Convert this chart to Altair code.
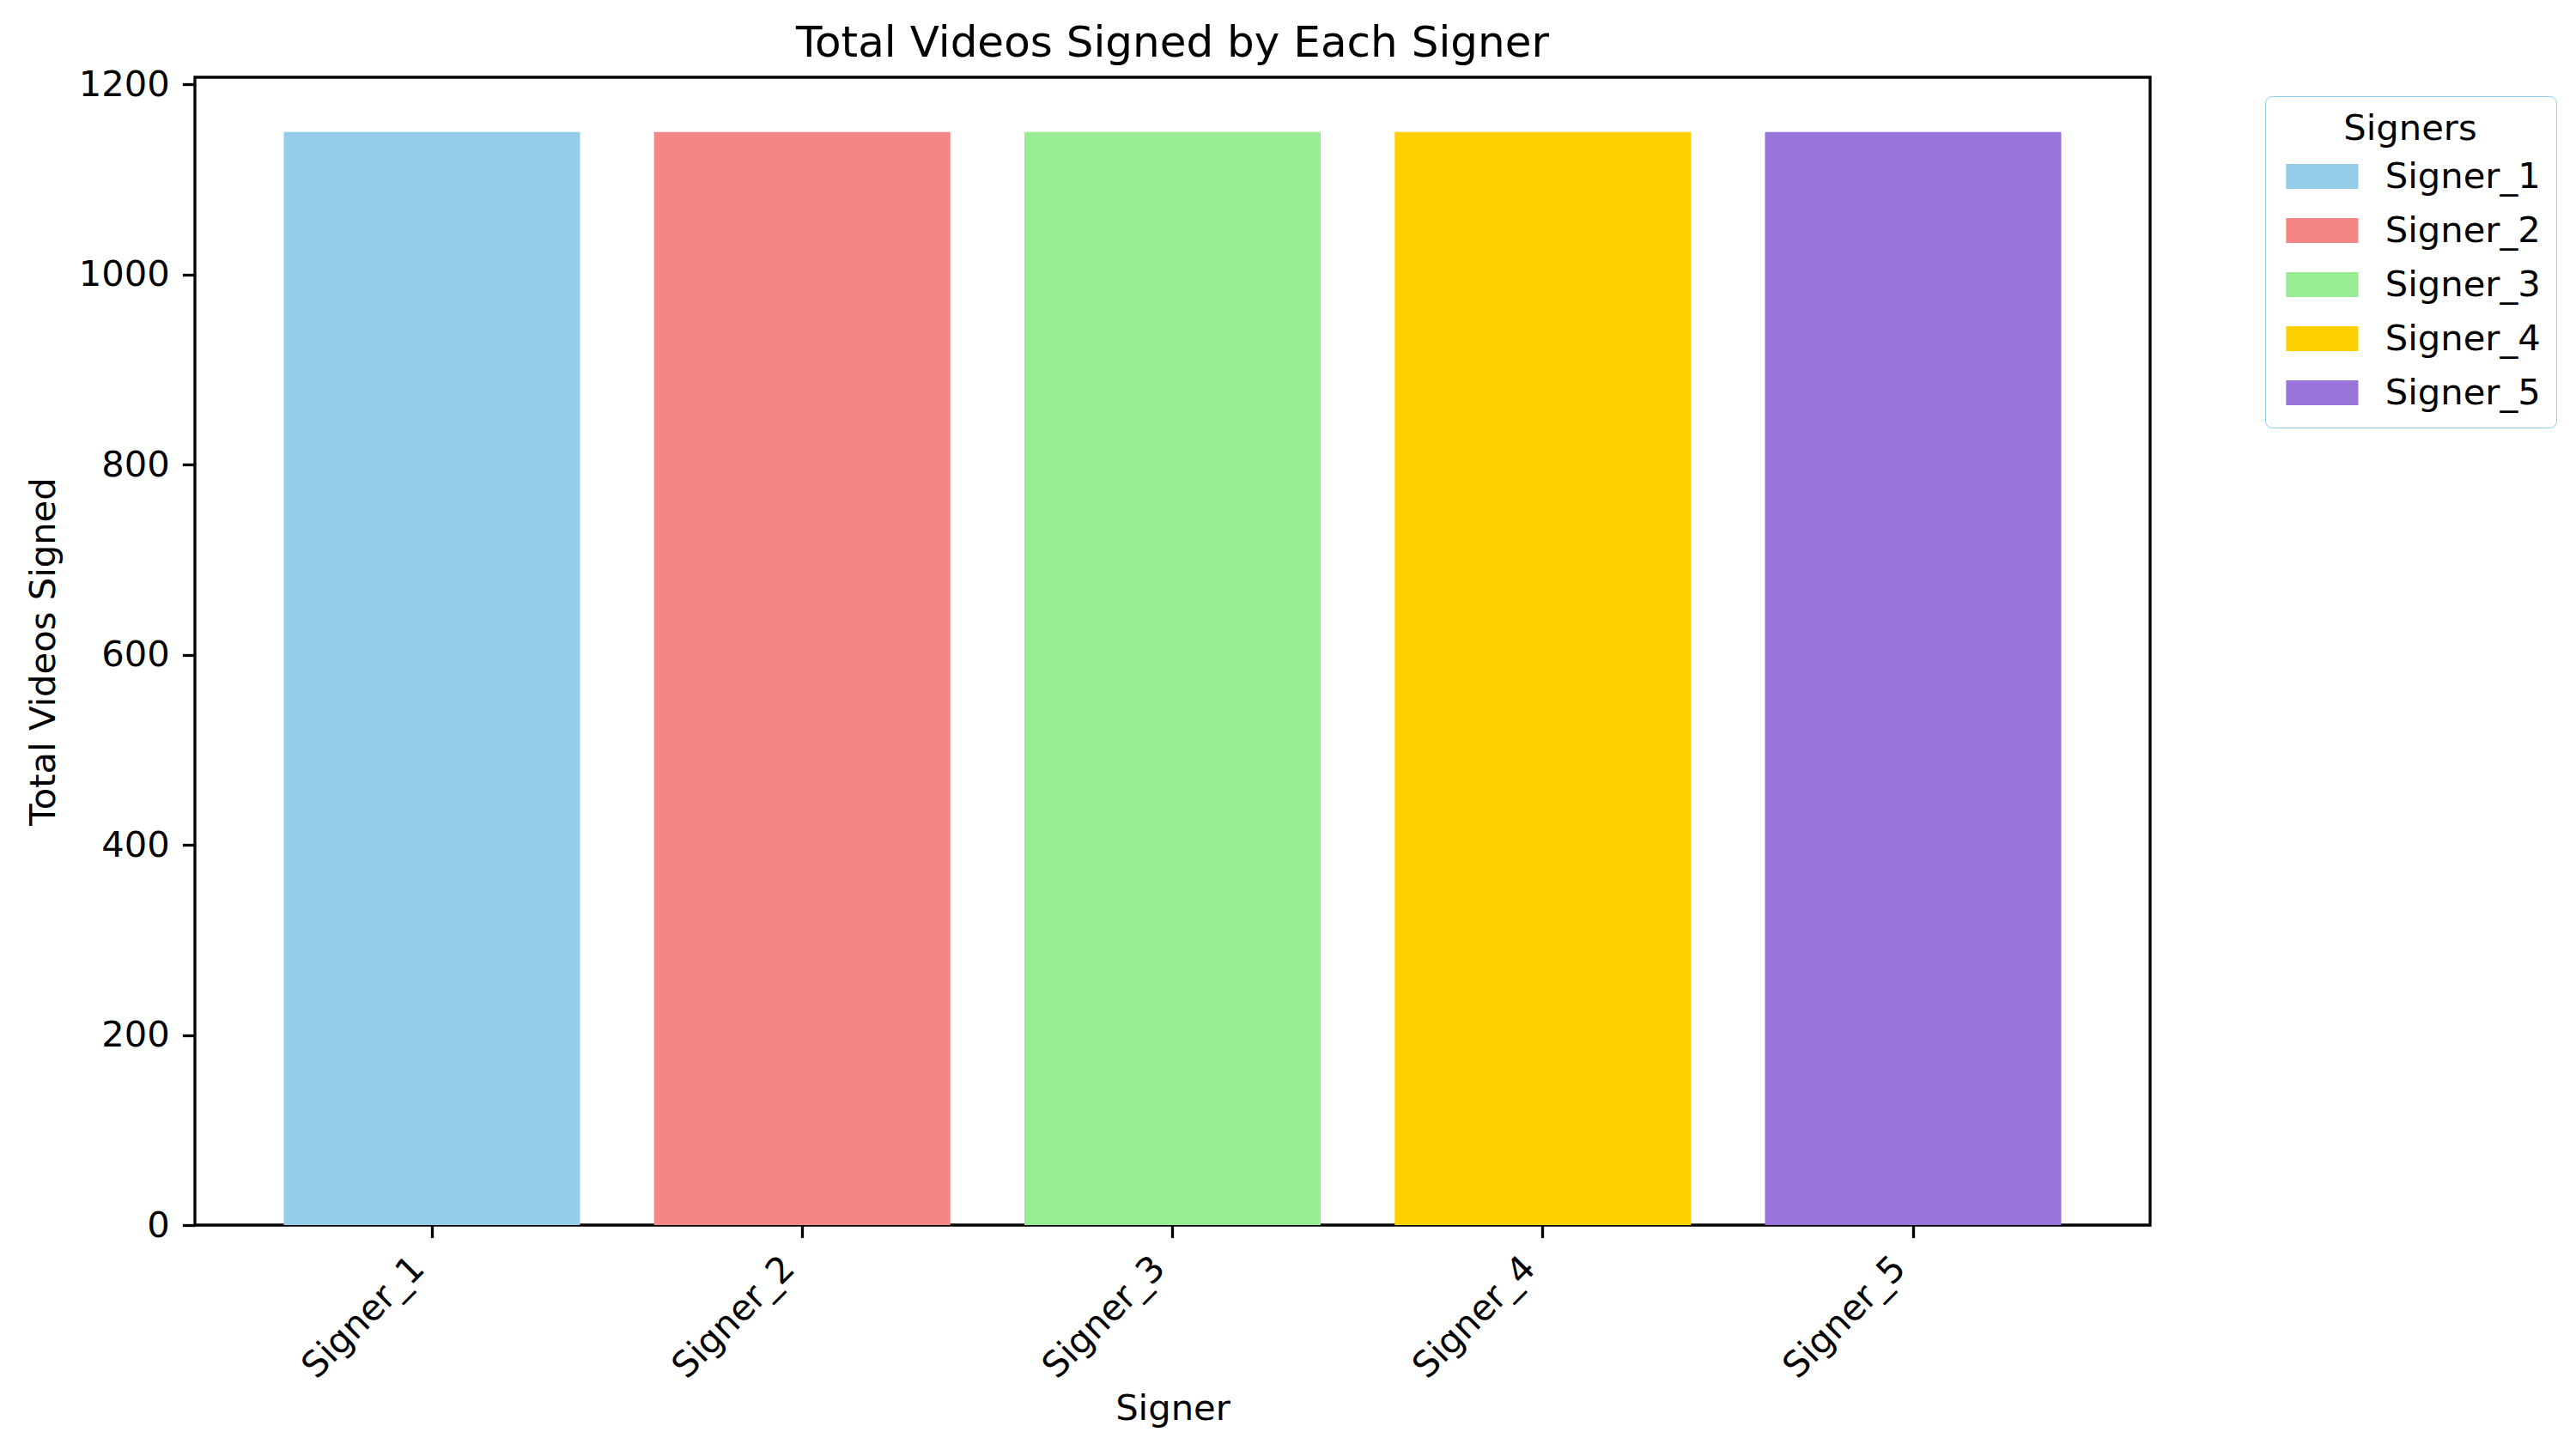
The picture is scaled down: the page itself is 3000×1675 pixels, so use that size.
import altair as alt
import pandas as pd

signers = ["Signer_1", "Signer_2", "Signer_3", "Signer_4", "Signer_5"]
videos = [1150, 1150, 1150, 1150, 1150]
colors = ["#94CCE9", "#F48785", "#98EC94", "#FFD000", "#9874DB"]
y_ticks = [0, 200, 400, 600, 800, 1000, 1200]

df = pd.DataFrame({"Signer": signers, "Videos": videos})

FONT = "DejaVu Sans"
FS = 41.7
W = 2277
H = 1337

chart = (
    alt.Chart(df)
    .mark_bar(strokeWidth=0)
    .encode(
        x=alt.X(
            "Signer:N",
            sort=signers,
            scale=alt.Scale(paddingInner=0.2, paddingOuter=0.24),
            axis=alt.Axis(
                title="Signer",
                labelAngle=-45,
                labelAlign="right",
                labelBaseline="bottom",
                labelPadding=44,
                labelLimit=400,
                titleX=W / 2,
                titleY=226,
                titleBaseline="alphabetic",
                bandPosition=0.5,
            ),
        ),
        y=alt.Y(
            "Videos:Q",
            scale=alt.Scale(domain=[0, 1207.5], nice=False, zero=True),
            axis=alt.Axis(
                title="Total Videos Signed",
                values=y_ticks,
                format="d",
                labelPadding=15,
                titleX=-164,
                titleY=H / 2,
                titleAngle=270,
                titleBaseline="alphabetic",
            ),
        ),
        color=alt.Color(
            "Signer:N",
            sort=signers,
            scale=alt.Scale(domain=signers, range=colors),
            legend=alt.Legend(
                title="Signers",
                orient="none",
                legendX=2411,
                legendY=22,
                padding=18,
                strokeColor="#8FCDEA",
                fillColor="white",
                cornerRadius=8,
                titleAnchor="middle",
                titleFontSize=FS,
                titleFontWeight="normal",
                titleFont=FONT,
                titleColor="black",
                titlePadding=13,
                labelFontSize=FS,
                labelFont=FONT,
                labelColor="black",
                labelLimit=400,
                symbolType="M-1,-1H4.8V1H-1Z",
                symbolSize=841,
                symbolStrokeWidth=0,
                symbolOpacity=1,
                symbolOffset=0,
                labelOffset=80,
                rowPadding=20,
            ),
        ),
    )
    .properties(
        width=W,
        height=H,
        autosize=alt.AutoSizeParams(type="none"),
        padding={"left": 219, "top": 82, "right": 480, "bottom": 238},
        title=alt.TitleParams(
            "Total Videos Signed by Each Signer",
            font=FONT,
            fontSize=50,
            fontWeight="normal",
            color="black",
            anchor="middle",
            frame="group",
            baseline="alphabetic",
            offset=25,
            dy=63,
        ),
    )
    .configure_view(stroke="black", strokeWidth=3.3)
    .configure_axis(
        domain=False,
        grid=False,
        ticks=True,
        tickColor="black",
        tickWidth=3.3,
        tickSize=14.6,
        labelFont=FONT,
        labelFontSize=FS,
        labelColor="black",
        titleFont=FONT,
        titleFontSize=FS,
        titleFontWeight="normal",
        titleColor="black",
    )
)

chart.save("out.html", embed_options={"renderer": "svg", "actions": False})
